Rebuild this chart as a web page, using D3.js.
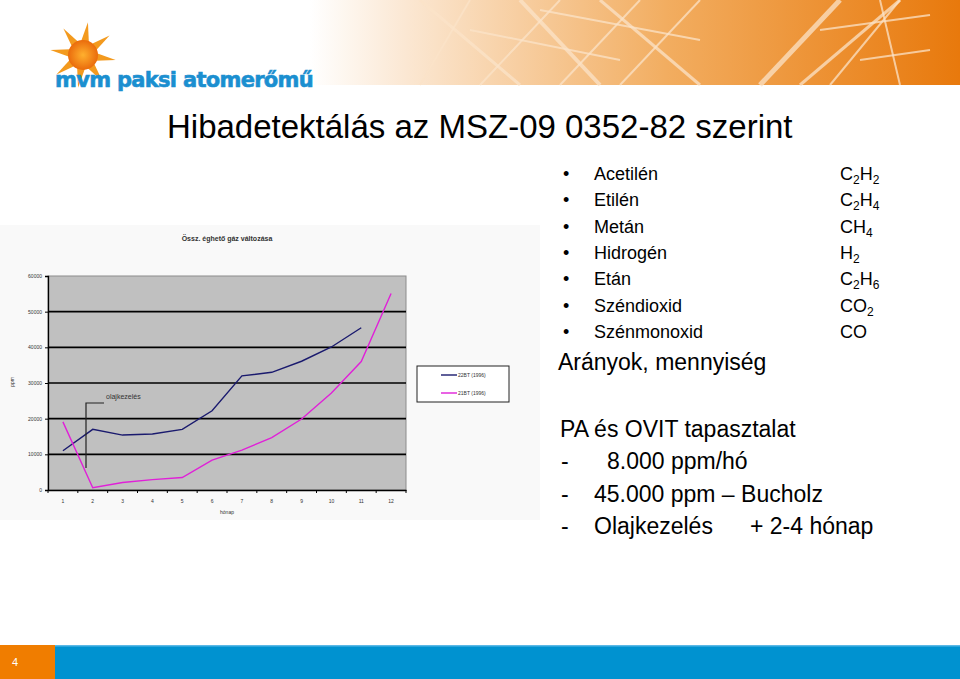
<!DOCTYPE html>
<html><head><meta charset="utf-8">
<script src="https://cdn.jsdelivr.net/npm/d3@7"></script>
<style>body{margin:0;background:#fff}svg{display:block;font-family:"Liberation Sans",Arial,sans-serif}</style>
</head><body>
<svg id="s" width="960" height="679"></svg>
<script>
const months = ["1","2","3","4","5","6","7","8","9","10","11","12"];
const series22BT = [11000,17000,15400,15700,17000,22200,32000,33000,36100,40100,45500,null];
const series21BT = [19100,650,2100,2900,3500,8400,11200,14700,19900,27200,36000,55100];
const seriesNames = ["22BT (1996)","21BT (1996)"];
const seriesColors = ["#1a1a6e","#e020d8"];
const yTicks = [0,10000,20000,30000,40000,50000,60000];
const gases = ["Acetilén","Etilén","Metán","Hidrogén","Etán","Széndioxid","Szénmonoxid"];
const formulas = [[["C","2"],["H","2"]],[["C","2"],["H","4"]],[["CH","4"]],[["H","2"]],[["C","2"],["H","6"]],[["CO","2"]],[["CO",""]]];

const svg = d3.select("#s");

// header gradient banner
const defs = svg.append("defs");
const g1 = defs.append("linearGradient").attr("id","hg").attr("x1","0").attr("x2","1");
g1.append("stop").attr("offset","0").attr("stop-color","#ffffff");
g1.append("stop").attr("offset","0.15").attr("stop-color","#fbe7d2");
g1.append("stop").attr("offset","0.55").attr("stop-color","#f2ad60");
g1.append("stop").attr("offset","1").attr("stop-color","#e8790c");
svg.append("rect").attr("x",310).attr("y",0).attr("width",650).attr("height",85).attr("fill","url(#hg)");
// pylon lattice hints
const lat = svg.append("g").attr("stroke","#fbe3c8").attr("stroke-opacity",0.75).attr("fill","none");
[[420,0,520,85,3],[470,0,420,85,2],[520,0,600,85,4],[560,0,480,85,2],[600,0,700,85,3],[640,0,560,85,2],[700,0,620,85,2],[760,85,840,0,5],[800,85,900,0,3],[880,0,900,85,2],[900,0,830,85,2],[470,30,620,60,2],[540,10,700,40,2],[820,30,930,15,2],[860,60,930,50,2]]
  .forEach(l=>lat.append("line").attr("x1",l[0]).attr("y1",l[1]).attr("x2",l[2]).attr("y2",l[3]).attr("stroke-width",l[4]));

// logo sun
const sun = svg.append("g").attr("transform","translate(83,55)");
for(let i=0;i<8;i++){
  const a=i*Math.PI/4 - Math.PI/2 + 0.15;
  const r1=14,r2=33,w=0.28;
  const p=[[r1*Math.cos(a-w),r1*Math.sin(a-w)],[r2*Math.cos(a),r2*Math.sin(a)],[r1*Math.cos(a+w),r1*Math.sin(a+w)]];
  sun.append("path").attr("d","M"+p.join("L")+"Z").attr("fill","#f39a1e");
}
const sg = defs.append("radialGradient").attr("id","sg");
sg.append("stop").attr("offset","0").attr("stop-color","#ffb02e");
sg.append("stop").attr("offset","1").attr("stop-color","#ea6b0c");
sun.append("circle").attr("r",15).attr("fill","url(#sg)");
svg.append("text").attr("x",55).attr("y",87).attr("font-size",21).attr("font-weight","bold")
  .attr("letter-spacing",-0.7).attr("stroke","#1b8fd0").attr("stroke-width",0.6)
  .attr("fill","#1b8fd0").attr("font-family","'DejaVu Sans',sans-serif").text("mvm paksi atomerőmű");

// title
svg.append("text").attr("x",167).attr("y",138).attr("font-size",33).attr("fill","#000").text("Hibadetektálás az MSZ-09 0352-82 szerint");

// chart picture background
svg.append("rect").attr("x",0).attr("y",225).attr("width",540).attr("height",295).attr("fill","#f9f9f9");

const m = {l:48,r:406,t:276,b:490};
const x = d3.scaleBand().domain(months).range([m.l,m.r]);
const y = d3.scaleLinear().domain([0,60000]).range([m.b,m.t]);

svg.append("rect").attr("x",m.l).attr("y",m.t).attr("width",m.r-m.l).attr("height",m.b-m.t)
  .attr("fill","#c0c0c0").attr("stroke","#8c8c8c").attr("stroke-width",1);
svg.append("g").selectAll("line").data(yTicks.filter(d=>d>0&&d<60000)).join("line")
  .attr("x1",m.l).attr("x2",m.r).attr("y1",d=>y(d)).attr("y2",d=>y(d)).attr("stroke","#000").attr("stroke-width",1.6);

const ya = svg.append("g").attr("transform",`translate(${m.l},0)`)
  .call(d3.axisLeft(y).tickValues(yTicks).tickSize(3).tickFormat(d3.format("d")));
ya.selectAll("text").attr("font-size",5).attr("fill","#333").attr("font-family","'Liberation Sans',Arial");
ya.select(".domain").attr("stroke","#000").attr("stroke-width",1.3);
const xa = svg.append("g").attr("transform",`translate(0,${m.b})`)
  .call(d3.axisBottom(x).tickSize(0).tickPadding(9));
xa.selectAll("text").attr("font-size",5).attr("fill","#333").attr("font-family","'Liberation Sans',Arial");
xa.select(".domain").attr("stroke","#000").attr("stroke-width",1.3);
svg.append("g").selectAll("line").data(months).join("line")
  .attr("x1",d=>x(d)).attr("x2",d=>x(d)).attr("y1",m.b).attr("y2",m.b+3).attr("stroke","#000");
svg.append("line").attr("x1",m.r).attr("x2",m.r).attr("y1",m.b).attr("y2",m.b+3).attr("stroke","#000");

svg.append("text").attr("x",227).attr("y",514).attr("font-size",5).attr("text-anchor","middle").attr("fill","#333").text("hónap");
svg.append("text").attr("transform","translate(14,382) rotate(-90)").attr("font-size",5).attr("text-anchor","middle").attr("fill","#333").text("ppm");
svg.append("text").attr("x",227).attr("y",241).attr("font-size",7).attr("font-weight","bold").attr("text-anchor","middle").attr("fill","#333").text("Össz. éghető gáz változása");

const line = d3.line().defined(d=>d!=null).x((d,i)=>x(months[i])+x.bandwidth()/2).y(d=>y(d));
[series22BT,series21BT].forEach((s,i)=>{
  svg.append("path").attr("d",line(s)).attr("fill","none").attr("stroke",seriesColors[i]).attr("stroke-width",1.4);
});

// annotation
svg.append("path").attr("d","M86,468V403H104").attr("fill","none").attr("stroke","#222").attr("stroke-width",1.2);
svg.append("text").attr("x",106).attr("y",399).attr("font-size",7).attr("fill","#333").text("olajkezelés");

// legend
svg.append("rect").attr("x",417).attr("y",366).attr("width",92).attr("height",36).attr("fill","#fff").attr("stroke","#222").attr("stroke-width",1);
seriesNames.forEach((n,i)=>{
  const yy = 375+i*18;
  svg.append("line").attr("x1",441).attr("x2",457).attr("y1",yy).attr("y2",yy).attr("stroke",seriesColors[i]).attr("stroke-width",1.4);
  svg.append("text").attr("x",458).attr("y",yy+2).attr("font-size",5).attr("fill","#333").text(n);
});

// right text
const rt = svg.append("g").attr("fill","#000");
gases.forEach((g,i)=>{
  const yy = 180+i*26.3;
  rt.append("text").attr("x",563).attr("y",yy).attr("font-size",18).text("•");
  rt.append("text").attr("x",594).attr("y",yy).attr("font-size",18).text(g);
  let cx = 840;
  formulas[i].forEach(p=>{
    const main = rt.append("text").attr("x",cx).attr("y",yy).attr("font-size",18).text(p[0]);
    cx += main.node().getComputedTextLength();
    if(p[1]){
      const sub = rt.append("text").attr("x",cx).attr("y",yy+4).attr("font-size",12).text(p[1]);
      cx += sub.node().getComputedTextLength();
    }
  });
});
rt.append("text").attr("x",558).attr("y",370).attr("font-size",23).text("Arányok, mennyiség");
rt.append("text").attr("x",560).attr("y",437).attr("font-size",23).text("PA és OVIT tapasztalat");
[["8.000 ppm/hó",607],["45.000 ppm – Bucholz",594],["Olajkezelés",594]].forEach((d,i)=>{
  const yy = 469+i*32.5;
  rt.append("text").attr("x",561).attr("y",yy).attr("font-size",23).text("-");
  rt.append("text").attr("x",d[1]).attr("y",yy).attr("font-size",23).text(d[0]);
});
rt.append("text").attr("x",750).attr("y",534).attr("font-size",23).text("+ 2-4 hónap");

// footer
svg.append("rect").attr("x",0).attr("y",645).attr("width",960).attr("height",34).attr("fill","#0092d0");
svg.append("rect").attr("x",55).attr("y",645).attr("width",905).attr("height",1.5).attr("fill","#5bb8e6");
svg.append("rect").attr("x",0).attr("y",645).attr("width",55).attr("height",34).attr("fill","#f07d00");
svg.append("text").attr("x",12).attr("y",666).attr("font-size",11).attr("fill","#fff").text("4");
</script>
</body></html>
